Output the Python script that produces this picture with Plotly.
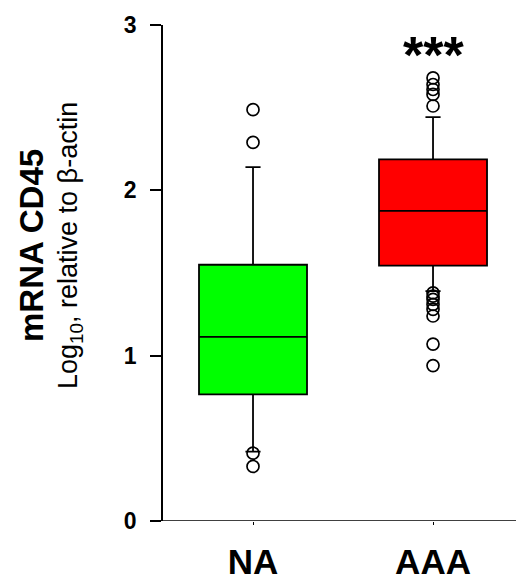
import plotly.graph_objects as go

categories = ["NA", "AAA"]
colors = ["#00FF00", "#FF0000"]
q1 = [0.766, 1.545]
median = [1.114, 1.876]
q3 = [1.55, 2.187]
lowerfence = [0.42, 1.39]
upperfence = [2.14, 2.443]
outliers = [
    [2.488, 2.29, 0.41, 0.33],
    [2.68, 2.64, 2.61, 2.58, 2.51, 1.38, 1.36, 1.34, 1.31, 1.28, 1.24, 1.07, 0.94],
]
yticks = [0, 1, 2, 3]
signif = "***"

FONT = "Arial, 'Liberation Sans', sans-serif"

fig = go.Figure()
for i, cat in enumerate(categories):
    fig.add_trace(go.Box(
        x=[i], q1=[q1[i]], median=[median[i]], q3=[q3[i]],
        lowerfence=[lowerfence[i]], upperfence=[upperfence[i]],
        width=0.6, whiskerwidth=0.14, boxpoints=False,
        fillcolor=colors[i], line=dict(color="black", width=1.8),
        showlegend=False, name=cat,
    ))
    fig.add_trace(go.Scatter(
        x=[i] * len(outliers[i]), y=outliers[i], mode="markers",
        marker=dict(symbol="circle-open", size=12, color="black",
                    line=dict(width=1.7, color="black")),
        showlegend=False,
    ))

fig.add_annotation(x=1, y=2.82, xref="x", yref="y", text=f"<b>{signif}</b>",
                   showarrow=False, font=dict(family=FONT, size=52, color="black"),
                   xanchor="center", yanchor="middle")

fig.add_annotation(x=0, xref="paper", xshift=-132, y=0.5544, yref="paper",
                   text="<b>mRNA CD45</b>", textangle=-90, showarrow=False,
                   font=dict(family=FONT, size=33, color="black"),
                   xanchor="center", yanchor="middle")
fig.add_annotation(x=0, xref="paper", xshift=-93, y=0.5544, yref="paper",
                   text="Log<sub>10</sub>, relative to \u03b2-actin", textangle=-90,
                   showarrow=False, font=dict(family=FONT, size=27, color="black"),
                   xanchor="center", yanchor="middle")

# x-axis baseline extending slightly left of the y-axis
fig.add_shape(type="line", xref="x domain", yref="y", x0=-0.028, x1=1, y0=0, y1=0,
              line=dict(color="black", width=1.7))

fig.update_layout(
    width=516, height=581,
    margin=dict(l=163, r=0, t=25, b=53.3),
    paper_bgcolor="white", plot_bgcolor="white",
    font=dict(family=FONT, color="black"),
    xaxis=dict(range=[-0.5, 1.461], tickvals=list(range(len(categories))),
               ticktext=[f"<b>{c}</b>" for c in categories],
               tickfont=dict(size=35, family=FONT, color="black"),
               showline=False, showgrid=False, zeroline=False,
               ticks="outside", ticklen=3, tickwidth=1.2, tickcolor="black",
               ticklabelstandoff=7),
    yaxis=dict(range=[0, 3], tickvals=yticks,
               ticktext=[f"<b>{t}</b>" for t in yticks],
               tickfont=dict(size=23, family=FONT, color="black"),
               showline=True, linecolor="black", linewidth=1.7,
               showgrid=False, zeroline=False,
               ticks="outside", ticklen=11, tickwidth=1.7, tickcolor="black",
               ticklabelstandoff=9),
)

fig.write_html("out.html", config={"displayModeBar": False},
               post_script="document.body.style.margin='0';document.body.style.overflow='hidden';")
